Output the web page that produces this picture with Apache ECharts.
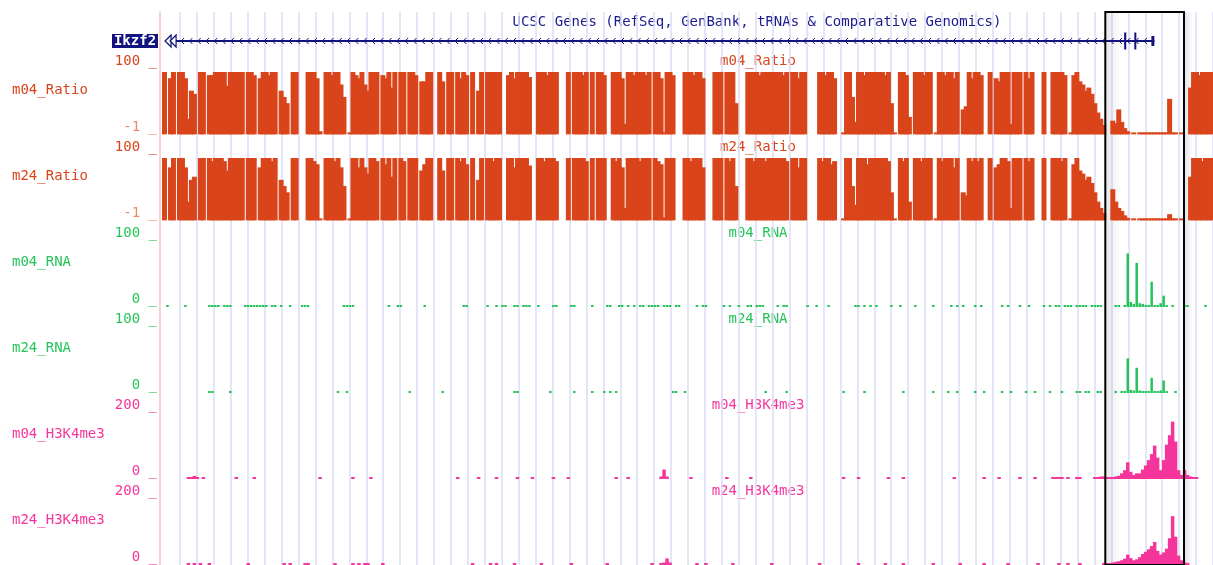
<!DOCTYPE html>
<html><head><meta charset="utf-8">
<script src="https://cdn.jsdelivr.net/npm/echarts@6/dist/echarts.min.js"></script>
<style>html,body{margin:0;padding:0;background:#fff}#c{width:1213px;height:565px}</style>
</head><body><div id="c"></div>
<script>
// ---------- DATA ----------
const NBINS = 352;                       // genomic bins across the window
const binCategories = Array.from({length: NBINS}, (_, i) => i);

const geneTitle = 'UCSC Genes (RefSeq, GenBank, tRNAs & Comparative Genomics)';
const geneName = 'Ikzf2';
const geneSpan = [[1.7, 332.4]];                          // [start, end] in bins (minus strand)
const geneExons = [[322.3, 323.0, 1], [325.7, 326.3, 1], [331.4, 332.4, 0]]; // [start,end,coding]
const highlightRegion = [[316.0, 342.3]];

const trackNames = ['m04_Ratio', 'm24_Ratio', 'm04_RNA', 'm24_RNA', 'm04_H3K4me3', 'm24_H3K4me3'];
const scaleMin = [-1, -1, 0, 0, 0, 0];
const scaleMax = [100, 100, 100, 100, 200, 200];
const scaleTopLabels = ['100', '100', '100', '100', '200', '200'];
const scaleBottomLabels = ['-1', '-1', '0', '0', '0', '0'];

const ratioM04 = [
null,100,null,90,100,null,100,100,90,25,
70,65,null,100,100,null,95,95,100,100,
100,100,78,100,100,100,100,100,null,100,
100,95,null,90,100,100,95,100,100,null,
70,60,50,null,100,100,null,null,null,100,
100,100,90,5,null,100,100,95,100,100,
80,60,null,1,100,95,90,100,80,70,
100,100,100,null,95,90,100,75,100,null,
100,100,null,100,100,95,null,85,85,100,
100,null,null,100,85,null,100,100,null,100,
90,100,95,null,100,null,70,100,null,100,
100,100,100,100,null,null,95,100,90,100,
100,100,100,92,null,null,100,100,100,95,
100,100,100,null,null,null,100,null,100,100,
100,95,100,null,100,null,100,100,95,null,
null,100,100,100,90,17,100,100,95,100,
100,100,95,100,null,100,100,90,3,100,
100,95,null,null,null,100,100,100,95,100,
100,90,null,null,null,100,100,100,null,100,
100,100,50,null,null,null,100,100,100,100,
95,100,100,100,100,100,100,100,95,100,
null,100,100,90,100,100,null,null,null,null,
100,100,95,100,100,90,null,null,3,100,
100,60,20,100,100,95,100,100,100,100,
100,100,95,100,50,3,null,100,100,95,
28,null,100,100,100,95,100,100,null,3,
100,100,95,100,100,90,100,null,40,45,
100,90,100,100,95,null,null,100,null,90,
85,100,100,100,17,100,100,100,null,100,
90,100,null,null,null,100,null,null,100,100,
100,100,95,null,3,95,100,85,80,70,
75,65,50,35,25,15,null,null,22,18,
40,20,10,5,null,3,null,2,2,2,
2,2,2,2,2,2,2,57,3,3,
null,3,null,null,75,100,100,95,100,100,100,100];

const ratioM24 = [
null,100,null,85,100,null,100,100,85,30,
65,70,null,100,100,null,100,95,100,100,
100,95,80,100,100,100,100,100,null,100,
100,100,null,85,100,100,100,95,100,null,
65,55,45,null,100,100,null,null,null,100,
100,95,90,3,null,100,100,100,95,100,
85,55,null,1,100,100,85,100,85,75,
100,100,95,null,100,90,100,70,100,null,
100,95,null,100,100,100,null,80,90,100,
100,null,null,100,80,null,100,100,null,100,
95,100,90,null,100,null,65,100,null,100,
100,95,100,100,null,null,100,100,85,100,
100,100,100,88,null,null,100,100,95,100,
100,100,95,null,null,null,100,null,100,100,
100,100,95,null,100,null,100,100,100,null,
null,100,95,100,85,20,100,100,100,100,
95,100,100,100,null,100,95,90,5,100,
100,100,null,null,null,100,100,95,100,100,
100,85,null,null,null,100,100,100,null,100,
95,100,55,null,null,null,100,100,95,100,
100,100,95,100,100,100,100,100,100,95,
null,100,100,85,100,100,null,null,null,null,
100,95,100,100,90,95,null,null,3,100,
100,55,25,100,100,100,90,100,100,100,
100,100,100,95,45,3,null,100,95,100,
30,null,100,100,95,100,100,100,null,3,
100,95,100,100,100,85,100,null,45,40,
100,95,100,95,100,null,null,100,null,85,
90,100,100,95,20,100,100,100,null,100,
95,100,null,null,null,100,null,null,100,100,
100,95,100,null,3,90,100,80,75,65,
70,60,45,30,20,12,null,null,50,30,
20,15,8,4,null,3,null,2,2,2,
2,2,2,2,2,2,2,10,3,3,
null,3,null,null,70,100,100,100,95,100,100,100];

const RNA_LOW = 2;   // baseline coverage specks
const H3_LOW = 5;
const m04RnaLow = [2,8,16,17,18,19,21,22,23,28,29,30,31,32,33,34,35,37,38,40,43,47,48,49,61,62,63,64,76,79,80,88,101,102,109,112,114,115,118,119,121,122,123,126,131,132,137,138,144,149,150,153,154,156,158,160,161,163,164,165,166,168,169,170,172,173,179,181,182,188,190,193,196,197,199,200,201,206,208,209,216,219,223,232,233,235,237,239,244,247,252,258,264,266,268,272,274,281,283,287,290,295,297,299,300,302,303,304,306,307,308,309,311,312,313,314,319,320,338,342,343,349];
const m04RnaPeaks = [[322,3],[323,85],[324,8],[325,5],[326,70],[327,6],[328,5],[329,3],[330,3],[331,40],[332,3],[333,3],[334,6],[335,18],[336,3]];
const m24RnaLow = [16,17,23,59,62,83,94,118,119,130,138,144,148,150,152,171,172,175,202,209,228,235,248,258,263,266,272,275,281,284,289,292,297,301,306,307,309,310,313,314,319,339];
const m24RnaPeaks = [[321,3],[322,3],[323,55],[324,5],[325,4],[326,40],[327,4],[328,3],[329,3],[330,3],[331,24],[332,3],[333,3],[334,4],[335,20],[336,2]];
const m04H3Low = [9,10,12,14,25,31,53,64,70,99,106,112,119,124,131,136,152,156,177,189,197,228,233,243,248,265,275,280,287,292,298,299,300,301,303,306,307,312,313];
const m04H3Peaks = [[11,10],[167,8],[168,30],[169,8],[314,8],[315,8],[316,6],[317,6],[318,6],[319,8],[320,10],[321,18],[322,28],[323,53],[324,23],[325,13],[326,18],[327,18],[328,30],[329,43],[330,60],[331,79],[332,106],[333,68],[334,28],[335,60],[336,109],[337,139],[338,182],[339,119],[340,28],[341,13],[342,28],[343,13],[344,8],[345,6],[346,5]];
const m24H3Low = [9,11,13,16,29,41,43,48,49,58,64,66,68,69,74,104,110,112,118,127,137,149,164,167,179,182,191,204,220,233,242,248,258,267,275,283,293,300,303,307];
const m24H3Peaks = [[168,8],[169,21],[170,8],[315,5],[316,5],[317,6],[318,8],[319,10],[320,12],[321,15],[322,20],[323,33],[324,22],[325,15],[326,18],[327,25],[328,35],[329,42],[330,50],[331,60],[332,73],[333,45],[334,33],[335,40],[336,52],[337,85],[338,155],[339,90],[340,30],[341,15],[342,8],[343,5]];

// ---------- STYLE / LAYOUT ----------
const RATIO = '#d9441a', RNA = '#25c45a', H3 = '#f5359b', GENE = '#13137f';
const trackColors = [RATIO, RATIO, RNA, RNA, H3, H3];
const trackBarWidths = [5, 5, 2.5, 2.5, 3.5, 3.5];
const FONT = '14px "DejaVu Sans Mono", "Liberation Mono", monospace';
const PLOT_LEFT = 160, PLOT_W = 1056;
const TOP0 = 72, STEP = 86, TH = 63;

function toBins(low, lowValue, peaks) {
  const arr = new Array(NBINS).fill(null);
  low.forEach(b => { arr[b] = lowValue; });
  peaks.forEach(p => { arr[p[0]] = p[1]; });
  return arr;
}
const trackData = [
  ratioM04, ratioM24,
  toBins(m04RnaLow, RNA_LOW, m04RnaPeaks), toBins(m24RnaLow, RNA_LOW, m24RnaPeaks),
  toBins(m04H3Low, H3_LOW, m04H3Peaks), toBins(m24H3Low, H3_LOW, m24H3Peaks)
];

const grid = [], xAxis = [], yAxis = [], series = [], graphic = [];

// 0: guideline grid
grid.push({left: 180, top: 12, width: 17.17 * 61, height: 553});
xAxis.push({gridIndex: 0, type: 'value', min: 0, max: 61, interval: 1,
  axisLine: {show: false}, axisTick: {show: false}, axisLabel: {show: false},
  splitLine: {show: true, lineStyle: {color: '#dcdcf9', width: 1.5}}});
yAxis.push({gridIndex: 0, type: 'value', min: 0, max: 1, show: false});

// 1: overlay grid (highlight box + left border)
grid.push({left: PLOT_LEFT, top: 12, width: PLOT_W, height: 560});
xAxis.push({gridIndex: 1, type: 'value', min: 0, max: NBINS, show: false});
yAxis.push({gridIndex: 1, type: 'value', min: 0, max: 1, show: true,
  axisLine: {show: true, lineStyle: {color: '#f6c4c4', width: 1.5}},
  axisTick: {show: false}, axisLabel: {show: false}, splitLine: {show: false}});

// 2: gene grid
grid.push({left: PLOT_LEFT, top: 30, width: PLOT_W, height: 22});
xAxis.push({gridIndex: 2, type: 'value', min: 0, max: NBINS, show: false});
yAxis.push({gridIndex: 2, type: 'value', min: 0, max: 1, show: false});

series.push({type: 'custom', xAxisIndex: 1, yAxisIndex: 1, z: 1, silent: true, data: highlightRegion,
  renderItem: (p, api) => {
    const a = api.coord([api.value(0), 1]), b = api.coord([api.value(1), 0]);
    const h = b[1] - a[1];
    return {type: 'group', children: [
      {type: 'rect', shape: {x: a[0], y: a[1], width: 16, height: h},
       style: {fill: new echarts.graphic.LinearGradient(0, 0, 1, 0, [{offset: 0, color: 'rgba(0,0,0,0.09)'}, {offset: 1, color: 'rgba(0,0,0,0)'}])}},
      {type: 'rect', shape: {x: b[0], y: a[1], width: 9, height: h},
       style: {fill: new echarts.graphic.LinearGradient(0, 0, 1, 0, [{offset: 0, color: 'rgba(40,40,90,0.14)'}, {offset: 1, color: 'rgba(40,40,90,0)'}])}}
    ]};
  }});
series.push({type: 'custom', xAxisIndex: 1, yAxisIndex: 1, z: 10, silent: true, data: highlightRegion,
  renderItem: (p, api) => {
    const a = api.coord([api.value(0), 1]), b = api.coord([api.value(1), 0]);
    return {type: 'rect', shape: {x: a[0], y: a[1], width: b[0] - a[0], height: b[1] - a[1]},
      style: {fill: 'none', stroke: '#000', lineWidth: 2}};
  }});

// gene model
series.push({type: 'custom', xAxisIndex: 2, yAxisIndex: 2, z: 5, silent: true, data: geneSpan,
  renderItem: (p, api) => {
    const a = api.coord([api.value(0), 0.5]), b = api.coord([api.value(1), 0.5]);
    const y = a[1];
    const ch = [{type: 'line', shape: {x1: a[0] + 8, y1: y, x2: b[0], y2: y}, style: {stroke: GENE, lineWidth: 2}}];
    for (let x = a[0] + 16; x < b[0] - 4; x += 8.3) {
      ch.push({type: 'polyline', shape: {points: [[x + 3, y - 3], [x, y], [x + 3, y + 3]]},
        style: {stroke: GENE, lineWidth: 1, fill: null}});
    }
    [0, 5].forEach(d => ch.push({type: 'polygon', shape: {points: [[a[0] + d, y], [a[0] + d + 6, y - 6], [a[0] + d + 6, y + 6]]},
      style: {stroke: GENE, fill: '#fff', lineWidth: 1.2}}));
    return {type: 'group', children: ch};
  }});
series.push({type: 'custom', xAxisIndex: 2, yAxisIndex: 2, z: 6, silent: true, data: geneExons,
  renderItem: (p, api) => {
    const a = api.coord([api.value(0), 0.5]), b = api.coord([api.value(1), 0.5]);
    const h = api.value(2) ? 17 : 10;
    return {type: 'rect', shape: {x: a[0], y: a[1] - h / 2, width: Math.max(b[0] - a[0], 2), height: h}, style: {fill: GENE}};
  }});

graphic.push({type: 'text', x: 757, y: 22, style: {text: geneTitle, font: FONT, fill: '#1a1a8c', textAlign: 'center', textVerticalAlign: 'middle'}});
graphic.push({type: 'rect', shape: {x: 112, y: 34, width: 46, height: 14}, style: {fill: GENE}});
graphic.push({type: 'text', x: 135, y: 41, style: {text: geneName, font: 'bold 14px "DejaVu Sans Mono", monospace', fill: '#fff', textAlign: 'center', textVerticalAlign: 'middle'}});

// data tracks
trackNames.forEach((name, i) => {
  const gi = 3 + i;
  const top = TOP0 + STEP * i;
  const col = trackColors[i];
  grid.push({left: PLOT_LEFT, top: top, width: PLOT_W, height: TH});
  xAxis.push({gridIndex: gi, type: 'category', data: binCategories, show: false});
  yAxis.push({gridIndex: gi, type: 'value', min: scaleMin[i], max: scaleMax[i], show: false});
  series.push({type: 'bar', xAxisIndex: gi, yAxisIndex: gi, data: trackData[i], barWidth: trackBarWidths[i],
    barMinHeight: 2, itemStyle: {color: col}, silent: true, z: 2});
  graphic.push({type: 'text', x: 12, y: top + 18, style: {text: name, font: FONT, fill: col, textVerticalAlign: 'middle'}});
  graphic.push({type: 'text', x: 758, y: top - 11, style: {text: name, font: FONT, fill: col, textAlign: 'center', textVerticalAlign: 'middle'}});
  graphic.push({type: 'text', x: 157, y: top - 11, style: {text: scaleTopLabels[i] + ' _', font: FONT, fill: col, textAlign: 'right', textVerticalAlign: 'middle'}});
  graphic.push({type: 'text', x: 157, y: top + TH - 8, style: {text: scaleBottomLabels[i] + ' _', font: FONT,
    fill: i < 2 ? '#e98a66' : col, textAlign: 'right', textVerticalAlign: 'middle'}});
});

const chart = echarts.init(document.getElementById('c'));
chart.setOption({animation: false, backgroundColor: '#fff', grid, xAxis, yAxis, series, graphic});
</script></body></html>
